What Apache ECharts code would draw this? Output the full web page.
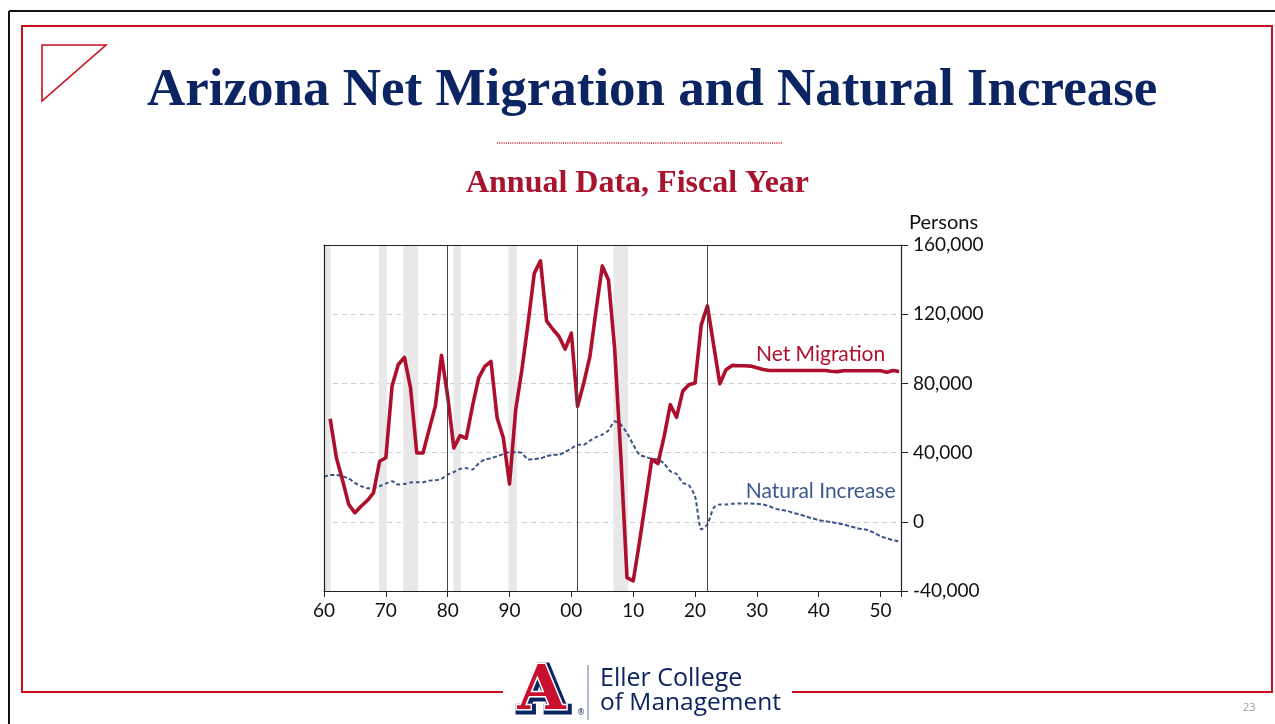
<!DOCTYPE html>
<html>
<head>
<meta charset="utf-8">
<script src="https://cdn.jsdelivr.net/npm/echarts@6/dist/echarts.min.js"></script>
<style>
html,body{margin:0;padding:0;background:#fff;}
#chart{width:1275px;height:724px;}
</style>
</head>
<body>
<div id="chart"></div>
<script>
// ---- Data ----
const netMigrationStartYear = 1961;
const netMigration = [
  59600, 37000, 24000, 10000, 5200, 9000, 12300, 16700, 35000, 37000,      // 1961-1970
  78300, 90800, 95000, 77300, 39800, 39800, 53300, 66700, 96200, 72500,    // 1971-1980
  42700, 49800, 48300, 66700, 83100, 89800, 92700, 60000, 48500, 21900,    // 1981-1990
  64800, 87900, 114800, 143600, 150800, 116100, 111300, 107100, 99800, 109000, // 1991-2000
  66700, 80200, 95600, 122500, 147900, 139800, 100000, 38000, -32300, -34200, // 2001-2010
  -12000, 12000, 36000, 33700, 49400, 67700, 60400, 75400, 79200, 80200,   // 2011-2020
  113800, 124800, 102300, 79800, 87900, 90400, 90200, 90200, 90000, 89000, // 2021-2030
  88000, 87500, 87500, 87500, 87500, 87500, 87500, 87500, 87500, 87500,    // 2031-2040
  87500, 87000, 86800, 87300, 87300, 87300, 87300, 87300, 87300, 87300,    // 2041-2050
  86500, 87500, 86900                                                      // 2051-2053
];
const naturalIncreaseStartYear = 1960;
const naturalIncrease = [
  26000,                                                                   // 1960
  27100, 27100, 26300, 25000, 22500, 20600, 19400, 19400, 20600, 22100,    // 1961-1970
  23500, 21500, 21900, 22700, 22900, 22900, 23800, 24000, 24800, 27300,    // 1971-1980
  28800, 30600, 31000, 30200, 33700, 36000, 36700, 37900, 39200, 40200,    // 1981-1990
  40200, 39800, 36000, 36200, 36700, 37900, 38800, 38800, 40400, 42300,    // 1991-2000
  44600, 44600, 46900, 49000, 50400, 52800, 58100, 56200, 51300, 44600,    // 2001-2010
  38800, 37500, 36500, 36000, 33700, 29200, 27700, 22500, 21200, 14800,    // 2011-2020
  -4400, -1500, 8100, 10000, 10000, 10400, 10600, 10600, 10600, 10400,     // 2021-2030
  10000, 9000, 7500, 6800, 6200, 5000, 4200, 3000, 2000, 1000,             // 2031-2040
  400, -200, -800, -1500, -2500, -3500, -4200, -4800, -6500, -8300,        // 2041-2050
  -9600, -10500, -11500                                                    // 2051-2053
];
// Shaded recession periods (fiscal-year axis) and single-line short recessions
const recessionBands = [
  [1959.9, 1961.08], [1968.9, 1970.15], [1972.83, 1975.2],
  [1980.92, 1982.12], [1989.83, 1991.18], [2006.8, 2009.14]
];
const recessionLines = [1980.0, 2001.0, 2021.93];
const yTicks = [-40000, 0, 40000, 80000, 120000, 160000];
const xTickYears = [1960, 1970, 1980, 1990, 2000, 2010, 2020, 2030, 2040, 2050];

const toPairs = (start, arr) => arr.map((v, i) => [start + i, v]);

const chart = echarts.init(document.getElementById('chart'));
const RED = '#ad0f2c';
const BLUE = '#3a5486';
const NAVY = '#0c2461';
const BORDER_RED = '#c80f1e';
const FONT = 'Lato, "Open Sans", sans-serif';
const X_MIN = 1960, X_MAX = 2053.3, Y_MIN = -40000, Y_MAX = 160000;

const option = {
  backgroundColor: '#ffffff',
  animation: false,
  title: [
    {
      text: 'Arizona Net Migration and Natural Increase',
      left: 142, top: 60,
      textStyle: { fontFamily: '"Liberation Serif", "Times New Roman", serif', fontWeight: 'bold', fontSize: 53, color: NAVY }
    },
    {
      text: 'Annual Data, Fiscal Year',
      left: 'center', top: 163,
      textStyle: { fontFamily: '"Liberation Serif", "Times New Roman", serif', fontWeight: 'bold', fontSize: 32, color: '#a8132e' }
    }
  ],
  grid: { left: 324, right: 374, top: 245, bottom: 133, show: false },
  xAxis: [
    {
      type: 'value', min: X_MIN, max: X_MAX, interval: 10,
      axisLine: { show: true, onZero: false, lineStyle: { color: '#222', width: 1.2 } },
      axisTick: { show: true, length: 6, lineStyle: { color: '#222' } },
      splitLine: { show: false },
      axisLabel: {
        margin: 10, fontFamily: FONT, fontSize: 19, color: '#111',
        formatter: v => xTickYears.indexOf(v) >= 0 ? String(v % 100).padStart(2, '0') : ''
      }
    },
    {
      // top frame line
      type: 'value', position: 'top', min: X_MIN, max: X_MAX, z: 10,
      axisLine: { show: true, onZero: false, lineStyle: { color: '#222', width: 1.2 } },
      axisTick: { show: false }, axisLabel: { show: false }, splitLine: { show: false }
    }
  ],
  yAxis: [
    {
      type: 'value', position: 'right', min: Y_MIN, max: Y_MAX, interval: 40000,
      name: 'Persons', nameLocation: 'end', nameGap: 12,
      nameTextStyle: { fontFamily: FONT, fontSize: 20, color: '#111', align: 'left', padding: [0, 0, 0, 8] },
      axisLine: { show: true, onZero: false, lineStyle: { color: '#222', width: 1.2 } },
      axisTick: { show: true, inside: false, length: 7, lineStyle: { color: '#222' } },
      splitLine: { show: true, showMinLine: false, showMaxLine: false, lineStyle: { color: '#cfcfcf', type: [5, 4], width: 1 } },
      axisLabel: {
        margin: 12, fontFamily: FONT, fontSize: 19, color: '#111',
        formatter: v => yTicks.indexOf(v) >= 0 ? v.toLocaleString('en-US') : ''
      }
    },
    {
      // left frame line
      type: 'value', position: 'left', min: Y_MIN, max: Y_MAX, z: 10,
      axisLine: { show: true, onZero: false, lineStyle: { color: '#222', width: 1.2 } },
      axisTick: { show: false }, axisLabel: { show: false }, splitLine: { show: false }
    }
  ],
  series: [
    {
      type: 'line', name: 'recessions', data: [], z: 1, silent: true,
      markArea: {
        silent: true,
        itemStyle: { color: '#e8e8e8' },
        data: recessionBands.map(b => [{ xAxis: b[0] }, { xAxis: b[1] }])
      },
      markLine: {
        silent: true, symbol: 'none', label: { show: false },
        lineStyle: { color: '#444', width: 1, type: 'solid' },
        data: recessionLines.map(x => ({ xAxis: x }))
      }
    },
    {
      type: 'line', name: 'Natural Increase', z: 3,
      data: toPairs(naturalIncreaseStartYear, naturalIncrease),
      showSymbol: false, smooth: 0.2,
      lineStyle: { color: BLUE, width: 2, type: [4, 2.5] },
      markPoint: {
        symbol: 'circle', symbolSize: 0, silent: true,
        label: { show: true, formatter: 'Natural Increase', fontFamily: FONT, fontSize: 21, color: '#3c5891', position: 'inside' },
        data: [{ coord: [2040.3, 17400] }]
      }
    },
    {
      type: 'line', name: 'Net Migration', z: 4,
      data: toPairs(netMigrationStartYear, netMigration),
      showSymbol: false,
      lineStyle: { color: RED, width: 3.6, join: 'round' },
      markPoint: {
        symbol: 'circle', symbolSize: 0, silent: true,
        label: { show: true, formatter: 'Net Migration', fontFamily: FONT, fontSize: 21, color: '#b0102e', position: 'inside' },
        data: [{ coord: [2040.3, 96600] }]
      }
    }
  ],
  graphic: [
    // outer black slide frame (top and left)
    { type: 'line', shape: { x1: 9, y1: 11, x2: 1275, y2: 11 }, style: { stroke: '#111', lineWidth: 2 } },
    { type: 'line', shape: { x1: 9, y1: 11, x2: 9, y2: 724 }, style: { stroke: '#111', lineWidth: 2 } },
    // red frame
    { type: 'polyline', shape: { points: [[503, 692], [22, 692], [22, 26], [1272, 26], [1272, 692], [792, 692]] }, style: { stroke: BORDER_RED, lineWidth: 2, fill: null } },
    // corner triangle
    { type: 'polygon', shape: { points: [[42, 45], [106, 45], [42, 101]] }, style: { stroke: BORDER_RED, lineWidth: 1.6, fill: null } },
    // dotted divider
    { type: 'line', shape: { x1: 497, y1: 143, x2: 783, y2: 143 }, style: { stroke: '#c0142c', lineWidth: 1.5, lineDash: [1, 1.2] } },
    // logo: block A
    { type: 'text', left: 516, top: 660, style: { text: 'A', font: 'bold 62px "DejaVu Serif", serif', fill: NAVY, stroke: NAVY, lineWidth: 7 } },
    { type: 'text', left: 516, top: 660, style: { text: 'A', font: 'bold 62px "DejaVu Serif", serif', fill: '#c8102e', stroke: '#ffffff', lineWidth: 3 } },
    { type: 'text', left: 577, top: 709, style: { text: '®', font: '8px "DejaVu Sans", sans-serif', fill: NAVY } },
    { type: 'line', shape: { x1: 588, y1: 665, x2: 588, y2: 720 }, style: { stroke: '#7f8aa5', lineWidth: 1.2 } },
    { type: 'text', left: 600, top: 666, style: { text: 'Eller College', font: '25px "Open Sans", "Noto Sans", sans-serif', fill: NAVY } },
    { type: 'text', left: 600, top: 691, style: { text: 'of Management', font: '24.5px "Open Sans", "Noto Sans", sans-serif', fill: NAVY } },
    // page number
    { type: 'text', left: 1243, top: 702, style: { text: '23', font: '11px "Open Sans", sans-serif', fill: '#9a9a9a' } }
  ]
};
chart.setOption(option);
</script>
</body>
</html>
